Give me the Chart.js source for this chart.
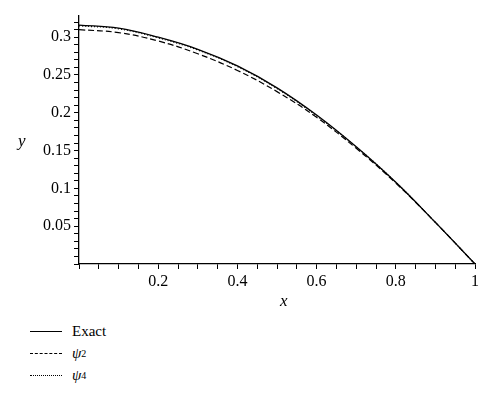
<!DOCTYPE html>
<html>
<head>
<script src="https://cdn.jsdelivr.net/npm/chart.js@4"></script>
<style>
body { margin:0; background:#fff; font-family:"Liberation Serif","DejaVu Serif",serif; }
#wrap { position:relative; width:500px; height:403px; }
#c { position:absolute; left:0; top:0; }
.lab { position:absolute; font-style:italic; font-size:17px; }
#legend { position:absolute; left:30px; top:320px; font-size:15px; }
.row { height:22px; display:flex; align-items:center; }
.row span.l { display:inline-block; width:32px; margin-right:10px; border-top:1.3px solid #000; }
</style>
</head>
<body>
<div id="wrap">
<canvas id="c" width="500" height="310"></canvas>
<div class="lab" style="left:18px;top:131px">y</div>
<div class="lab" style="left:280px;top:291px">x</div>
<div id="legend">
<div class="row"><span class="l"></span>Exact</div>
<div class="row"><span class="l" style="border-top-style:dashed"></span><i>ψ</i><sub style="font-size:10px">2</sub></div>
<div class="row"><span class="l" style="border-top-style:dotted"></span><i>ψ</i><sub style="font-size:10px">4</sub></div>
</div>
</div>
<script>
const xs = [0, 0.1, 0.2, 0.3, 0.4, 0.5, 0.6, 0.7, 0.8, 0.9, 1];
const exact = [0.316, 0.312, 0.300, 0.284, 0.262, 0.233, 0.197, 0.155, 0.108, 0.055, 0];
const psi2 = [0.310, 0.306, 0.295, 0.278, 0.256, 0.228, 0.194, 0.153, 0.107, 0.055, 0];
const psi4 = [0.315, 0.311, 0.299, 0.283, 0.261, 0.232, 0.196, 0.155, 0.108, 0.055, 0];

const pts = arr => arr.map((v, i) => ({ x: xs[i], y: v }));
const font = { family: '"Liberation Serif","DejaVu Serif",serif', size: 16 };

new Chart(document.getElementById('c'), {
    type: 'line',
    data: {
        datasets: [
            { label: 'Exact', data: pts(exact), borderColor: '#000', borderWidth: 1.3 },
            { label: 'ψ2', data: pts(psi2), borderColor: '#000', borderWidth: 1.2, borderDash: [6, 3] },
            { label: 'ψ4', data: pts(psi4), borderColor: '#000', borderWidth: 1.2, borderDash: [1, 2] }
        ]
    },
    options: {
        responsive: false,
        animation: false,
        elements: { point: { radius: 0 }, line: { tension: 0.4 } },
        layout: { padding: { top: 16, right: 25, left: 0, bottom: 0 } },
        plugins: { legend: { display: false }, tooltip: { enabled: false } },
        scales: {
            x: {
                type: 'linear', min: 0, max: 1,
                afterFit: s => { s.height = 46; },
                afterBuildTicks: s => { s.ticks = []; for (let i = 0; i <= 20; i++) s.ticks.push({ value: i / 20 }); },
                grid: { drawOnChartArea: false, tickLength: 5, color: '#000' },
                border: { color: '#000', width: 1.3 },
                ticks: { color: '#000', font: font, maxRotation: 0, autoSkip: false,
                    callback: v => { const r = Math.round(v * 100); return (r % 20 === 0 && r > 0) ? String(r / 100) : ''; } }
            },
            y: {
                min: 0, max: 0.328,
                afterFit: s => { s.width = 79; },
                afterBuildTicks: s => { s.ticks = []; for (let i = 0; i <= 32; i++) s.ticks.push({ value: i / 100 }); },
                grid: { drawOnChartArea: false, tickLength: 5, color: '#000' },
                border: { color: '#000', width: 1.3 },
                ticks: { color: '#000', font: font, autoSkip: false,
                    callback: v => { const r = Math.round(v * 100); return (r % 5 === 0 && r > 0) ? String(r / 100) : ''; } }
            }
        }
    }
});
</script>
</body>
</html>
